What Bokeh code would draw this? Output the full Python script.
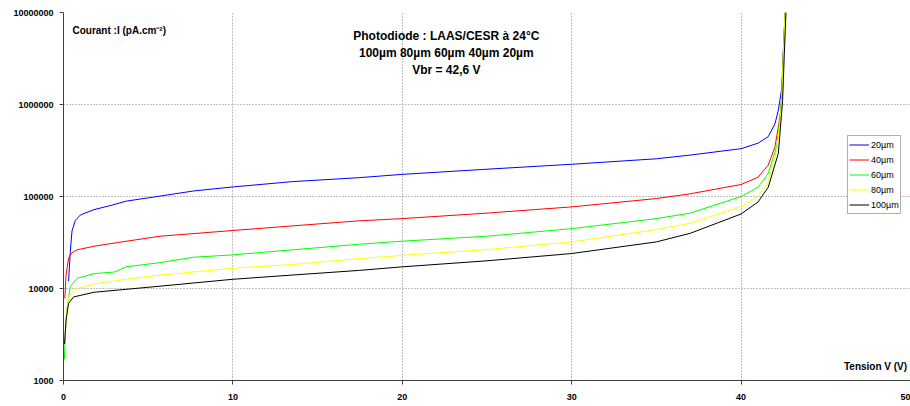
from bokeh.plotting import figure
from bokeh.models import Range1d, FixedTicker, Label, Legend, LegendItem, PrintfTickFormatter
from bokeh.embed import file_html
from bokeh.resources import INLINE

# ---- data ----
v_20 = [0.3, 0.4, 0.5, 0.7, 1.0, 1.8, 2.8, 3.7, 5.7, 7.7, 10, 13.5, 17.4, 20, 25, 30, 35, 37, 40, 41, 41.6, 42.0, 42.2, 42.4, 42.5, 42.6]
i_20 = [12000, 25000, 42000, 55000, 63000, 72000, 80000, 89000, 101000, 115000, 127000, 145000, 160000, 174000, 198000, 224000, 257000, 282000, 331000, 380000, 447000, 617000, 870000, 1500000, 4000000, 10000000]

v_40 = [0.08, 0.15, 0.3, 0.5, 0.8, 1.8, 3.2, 5.7, 10, 13.5, 17.4, 20, 25, 30, 35, 37, 40, 41, 41.6, 42.0, 42.3, 42.4, 42.5, 42.6]
i_40 = [7800, 14000, 21500, 24500, 26300, 28800, 31600, 37000, 42700, 47900, 54300, 57500, 66000, 77100, 95000, 107000, 135000, 162000, 219000, 347000, 741000, 1200000, 4000000, 10000000]

v_60 = [0.05, 0.15, 0.2, 0.4, 0.8, 1.8, 3.0, 3.7, 5.7, 7.7, 10, 13.5, 17.4, 20, 25, 30, 35, 37, 40, 41, 41.6, 42.1, 42.3, 42.4, 42.5, 42.6]
i_60 = [1700, 4500, 6000, 10500, 12900, 14500, 15100, 17200, 19100, 21900, 23200, 26300, 30200, 32700, 37000, 44700, 57500, 66000, 100000, 126000, 178000, 347000, 700000, 1200000, 4000000, 10000000]

v_80 = [0.08, 0.2, 0.3, 0.8, 1.8, 3.7, 5.7, 10, 13.5, 17.4, 20, 25, 30, 35, 37, 40, 41, 41.6, 42.1, 42.3, 42.4, 42.5, 42.6]
i_80 = [2950, 5750, 8100, 10000, 11200, 12600, 14000, 16600, 18200, 21100, 22900, 26500, 32100, 43700, 51300, 77600, 100000, 145000, 316000, 650000, 1100000, 3500000, 10000000]

v_100 = [0.06, 0.15, 0.3, 0.6, 1.8, 3.7, 5.7, 10, 13.5, 17.4, 20, 25, 30, 35, 37, 40, 41, 41.6, 42.2, 42.35, 42.45, 42.55, 42.65]
i_100 = [2500, 4500, 6900, 8100, 9100, 9800, 10600, 12600, 14000, 15700, 17200, 20000, 24000, 32100, 39800, 64600, 87100, 126000, 295000, 650000, 1100000, 3500000, 10000000]

series_names = ["20µm", "40µm", "60µm", "80µm", "100µm"]
series_colors = ["#0000ff", "#ff0000", "#00ff00", "#ffff00", "#000000"]
x_ticks = [0, 10, 20, 30, 40, 50]
y_ticks = [1000, 10000, 100000, 1000000, 10000000]

title_lines = ["Photodiode : LAAS/CESR à 24°C", "100µm 80µm 60µm 40µm 20µm", "Vbr = 42,6 V"]
y_title = "Courant :I (pA.cm⁻²)"
x_title = "Tension V (V)"

FONT = "Liberation Sans"

p = figure(width=910, height=406, output_backend="svg", toolbar_location=None,
           y_axis_type="log", x_range=Range1d(0, 50), y_range=Range1d(1000, 1e7),
           min_border_left=63, min_border_right=0, min_border_top=12, min_border_bottom=26)
p.outline_line_color = None
p.background_fill_color = "white"
p.border_fill_color = "white"

# axes
p.xaxis.ticker = FixedTicker(ticks=x_ticks)
p.yaxis.ticker = FixedTicker(ticks=y_ticks)
p.yaxis.formatter = PrintfTickFormatter(format="%d")
for ax in (p.xaxis[0], p.yaxis[0]):
    ax.axis_line_color = "#404040"
    ax.axis_line_width = 1
    ax.major_tick_line_color = "#404040"
    ax.major_tick_out = 4
    ax.major_tick_in = 0
    ax.minor_tick_line_color = None
    ax.major_label_text_font = FONT
    ax.major_label_text_font_size = "9px"
    ax.major_label_text_font_style = "bold"
    ax.major_label_text_color = "black"
p.xaxis.major_label_standoff = 9
p.yaxis.major_label_standoff = 6

# grid
p.xgrid.ticker = FixedTicker(ticks=x_ticks)
p.ygrid.ticker = FixedTicker(ticks=y_ticks)
for g in (p.xgrid[0], p.ygrid[0]):
    g.grid_line_color = "#808080"
    g.grid_line_dash = "1 2"
    g.grid_line_width = 1
p.ygrid.minor_grid_line_color = None

# curves
all_v = [v_20, v_40, v_60, v_80, v_100]
all_i = [i_20, i_40, i_60, i_80, i_100]
renderers = []
for v, i, c in zip(all_v, all_i, series_colors):
    r = p.line(v, i, line_color=c, line_width=1)
    renderers.append(r)

legend = Legend(items=[LegendItem(label=n, renderers=[r]) for n, r in zip(series_names, renderers)],
                location=(784, 166))
legend.label_text_font = FONT
legend.label_text_font_size = "9px"
legend.label_text_color = "black"
legend.glyph_width = 20
legend.glyph_height = 15
legend.label_height = 15
legend.label_width = 10
legend.label_standoff = 2
legend.spacing = 0
legend.padding = 1
legend.margin = 0
legend.border_line_color = "#606060"
legend.border_line_width = 1
legend.background_fill_color = "white"
legend.background_fill_alpha = 1
p.add_layout(legend)

# texts
title_y = [5.6e6, 3.6e6, 2.4e6]
for t, yy in zip(title_lines, title_y):
    p.add_layout(Label(x=22.6, y=yy, text=t, text_align="center", text_baseline="middle",
                       text_font=FONT, text_font_size="12px", text_font_style="bold",
                       text_color="black"))

p.add_layout(Label(x=0.53, y=6.37e6, text=y_title, text_align="left", text_baseline="middle",
                   text_font=FONT, text_font_size="10px", text_font_style="bold", text_color="black"))
p.add_layout(Label(x=49.8, y=1420, text=x_title, text_align="right", text_baseline="middle",
                   text_font=FONT, text_font_size="10px", text_font_style="bold", text_color="black"))

open("out.html", "w").write(file_html(p, INLINE))
